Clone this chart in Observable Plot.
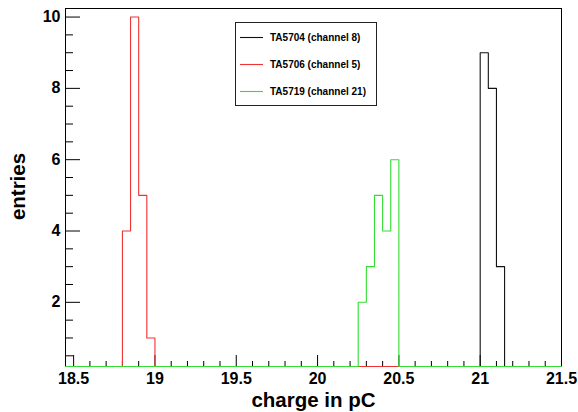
<!DOCTYPE html>
<html>
<head>
<meta charset="utf-8">
<script src="https://cdn.jsdelivr.net/npm/d3@7"></script>
<script src="https://cdn.jsdelivr.net/npm/@observablehq/plot@0.6"></script>
<style>
  html, body { margin: 0; padding: 0; background: #fff; }
  #wrap { position: relative; width: 578px; height: 412px; }
</style>
</head>
<body>
<div id="wrap"></div>
<script>
// ---- data ----
const seriesNames = ["TA5704 (channel 8)", "TA5706 (channel 5)", "TA5719 (channel 21)"];
const seriesColors = ["#111111", "#ee3333", "#33dd33"];
// first bin lower edge (pC) and counts of consecutive 0.05 pC bins
const blackFirstEdge = 21.00;
const blackCounts = [9, 8, 3];
const redFirstEdge = 18.80;
const redCounts = [4, 10, 5, 1];
const greenFirstEdge = 20.25;
const greenCounts = [2, 3, 5, 4, 6];

const xMin = 18.45, xMax = 21.5, binWidth = 0.05;
const yMin = 0.2, yMax = 10.24;

const xMajorTicks = [18.5, 19, 19.5, 20, 20.5, 21, 21.5];
const xTickLabels = ["18.5", "19", "19.5", "20", "20.5", "21", "21.5"];
const yMajorTicks = [2, 4, 6, 8, 10];
const yTickLabels = ["2", "4", "6", "8", "10"];

const xTitle = "charge in pC";
const yTitle = "entries";

// ---- build step outlines ----
function stepPoints(firstEdge, counts, series) {
  const n = Math.round((xMax - xMin) / binWidth);
  const start = Math.round((firstEdge - xMin) / binWidth);
  const pts = [];
  for (let i = 0; i <= n; i++) {
    const c = i < n ? (counts[i - start] ?? 0) : 0;
    pts.push({x: xMin + i * binWidth, y: c, series});
  }
  return pts;
}
const hists = [
  stepPoints(blackFirstEdge, blackCounts, 0),
  stepPoints(redFirstEdge, redCounts, 1),
  stepPoints(greenFirstEdge, greenCounts, 2)
];

const xMinor = d3.range(185, 215).map(v => v / 10).filter(v => v > xMin && v <= xMax && !xMajorTicks.some(m => Math.abs(m - v) < 1e-9));
const yMinor = d3.range(1, 21).map(v => v / 2).filter(v => v >= yMin && v <= yMax && !yMajorTicks.includes(v));

const W = 578, H = 412, mL = 65, mR = 17, mT = 8, mB = 46;
const plotW = W - mL - mR, plotH = H - mT - mB;
const font = "Liberation Sans, Arial, Helvetica, sans-serif";

const marks = [
  Plot.frame({stroke: "#000", strokeWidth: 1}),
  Plot.tickY(yMajorTicks, {y: d => d, stroke: "#000", insetRight: plotW - 15}),
  Plot.tickY(yMinor, {y: d => d, stroke: "#000", insetRight: plotW - 8}),
  Plot.tickX(xMajorTicks, {x: d => d, stroke: "#000", insetTop: plotH - 11}),
  Plot.tickX(xMinor, {x: d => d, stroke: "#000", insetTop: plotH - 5})
];
hists.forEach((h, k) => {
  marks.push(Plot.line(h, {x: "x", y: d => Math.max(d.y, yMin), curve: "step-after", stroke: seriesColors[k], strokeWidth: 1.1}));
});
marks.push(
  Plot.text(xMajorTicks, {x: d => d, text: (d, i) => xTickLabels[i], frameAnchor: "bottom", dy: 12, lineAnchor: "middle", textAnchor: "middle", fontSize: 16, fontWeight: "bold", fontFamily: font, fill: "#000"}),
  Plot.text(yMajorTicks, {y: d => d, text: (d, i) => yTickLabels[i], frameAnchor: "left", dx: -5, lineAnchor: "middle", textAnchor: "end", fontSize: 16, fontWeight: "bold", fontFamily: font, fill: "#000"}),
  Plot.text([xTitle], {text: d => d, frameAnchor: "bottom", dy: 40.5, lineAnchor: "bottom", textAnchor: "middle", fontSize: 20.5, fontWeight: "bold", fontFamily: font, fill: "#000"}),
  Plot.text([yTitle], {text: d => d, frameAnchor: "left", dx: -41, dy: -1, rotate: -90, lineAnchor: "bottom", textAnchor: "middle", fontSize: 20.5, fontWeight: "bold", fontFamily: font, fill: "#000"})
);

const chart = Plot.plot({
  width: W, height: H,
  marginLeft: mL, marginRight: mR, marginTop: mT, marginBottom: mB,
  x: {domain: [xMin, xMax], axis: null},
  y: {domain: [yMin, yMax], axis: null},
  style: {background: "#fff", fontFamily: font},
  marks
});

// legend box (inside the pad, like ROOT's TLegend)
const svg = d3.select(chart);
const lg = svg.append("g").attr("font-family", font).attr("font-size", 10)
  .attr("font-weight", "bold").attr("text-anchor", "start");
lg.append("rect").attr("x", 235.5).attr("y", 22.5).attr("width", 141).attr("height", 83)
  .attr("fill", "#fff").attr("stroke", "#222").attr("stroke-width", 1);
seriesNames.forEach((name, k) => {
  const yy = 37.5 + 27 * k;
  lg.append("line").attr("x1", 240).attr("x2", 263).attr("y1", yy).attr("y2", yy)
    .attr("stroke", seriesColors[k]).attr("stroke-width", 1.1);
  lg.append("text").attr("x", 270).attr("y", yy).attr("dy", "0.35em")
    .attr("text-anchor", "start").attr("fill", "#000").text(name);
});

document.getElementById("wrap").appendChild(chart);
</script>
</body>
</html>
